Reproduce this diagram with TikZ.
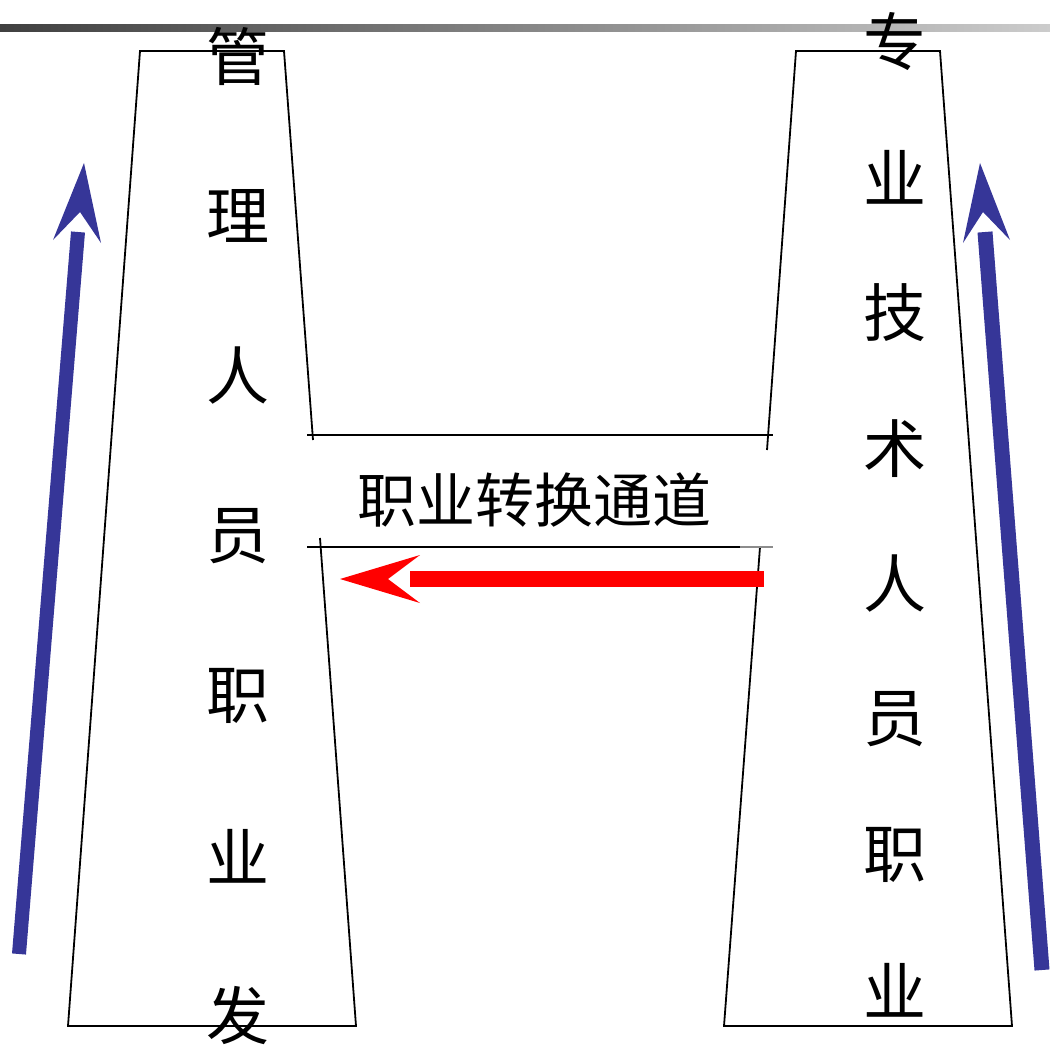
\documentclass[tikz,border=0pt]{standalone}
\usepackage{fontspec}
\newfontfamily\cjk{Noto Sans CJK SC}
\definecolor{arrowblue}{RGB}{54,54,152}
\begin{document}
\begin{tikzpicture}[x=1pt,y=-1pt,
  wall/.style={line width=1.8pt,black},
  colchar/.style={font=\cjk\fontsize{63}{63}\selectfont,inner sep=0pt,anchor=center},
  midtext/.style={font=\cjk\fontsize{59}{59}\selectfont,inner sep=0pt,anchor=center}]
\useasboundingbox (0,0) rectangle (1050,1046);
% top gradient rule
\shade[left color=black!75,right color=black!20] (0,25) rectangle (1050,32);
% left tower
\draw[wall] (313,440) -- (284,51) -- (140,51) -- (68,1026) -- (356,1026) -- (320,538);
% right tower
\draw[wall] (767,450) -- (796,51) -- (940,51) -- (1012,1026) -- (724,1026) -- (760,547);
% channel lines
\draw[wall] (307,435) -- (773,435);
\draw[wall] (307,547) -- (740,547);
\draw[line width=1.4pt,black!45] (740,547) -- (773,547);
% left column text
\foreach \c [count=\i from 0] in {管,理,人,员,职,业,发}
  \node[colchar] (L\i) at (238,{56+160*\i}) {\c};
% right column text
\foreach \c [count=\i from 0] in {专,业,技,术,人,员,职,业}
  \node[colchar] (R\i) at (895,{42+135.5*\i}) {\c};
% middle text
\node[midtext] (mid) at (534,500) {职业转换通道};
% red arrow
\fill[red] (410,571) rectangle (764,587);
\fill[red] (340,579) -- (420,555) -- (388,579) -- (420,603) -- cycle;
% left blue arrow
\draw[arrowblue,line width=14pt] (19,954) -- (78,232);
\fill[arrowblue] (84,163) -- (101,243) -- (80,212) -- (53,240) -- cycle;
% right blue arrow
\draw[arrowblue,line width=15pt] (1042,970) -- (985,232);
\fill[arrowblue] (980,163) -- (1010,240) -- (983,212) -- (963,243) -- cycle;
\end{tikzpicture}
\end{document}
